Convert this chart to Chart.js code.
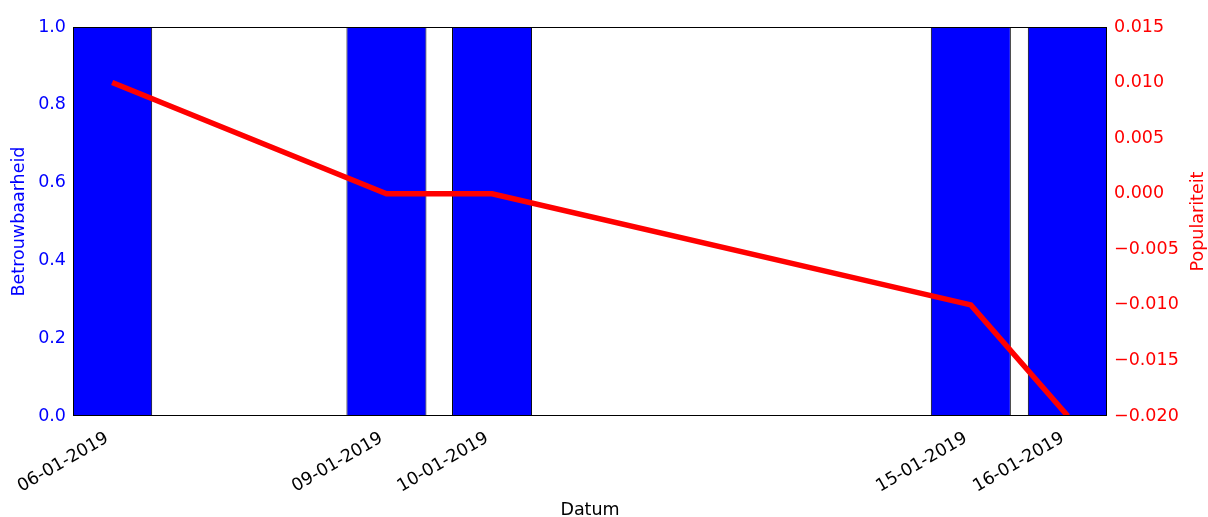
<!DOCTYPE html>
<html>
<head>
<meta charset="utf-8">
<script src="https://cdn.jsdelivr.net/npm/chart.js@4.4.0/dist/chart.umd.min.js"></script>
<style>
html, body { margin: 0; padding: 0; background: #fff; }
#wrap { width: 1208px; height: 517px; }
</style>
</head>
<body>
<div id="wrap"><canvas id="myChart" width="1208" height="517"></canvas></div>
<script>
var datums = ['06-01-2019', '09-01-2019', '10-01-2019', '15-01-2019', '16-01-2019'];
var dagen = [0, 2.87, 3.975, 8.985, 10];
// betrouwbaarheid -> balken, linker as
var betrouwbaarheid = [1.0, 1.0, 1.0, 1.0, 1.0];
// populariteit -> lijn, rechter as
var populariteit = [0.010, 0.000, 0.000, -0.010, -0.020];
var linksTicks = [0.0, 0.2, 0.4, 0.6, 0.8, 1.0];
var rechtsTicks = [-0.020, -0.015, -0.010, -0.005, 0.000, 0.005, 0.010, 0.015];

Chart.defaults.font.family = 'DejaVu Sans';
Chart.defaults.font.size = 17.5;

// zwart kader rond het plotgebied + titel rechter as (van onder naar boven, zoals links)
var kader = {
    id: 'kader',
    afterDatasetsDraw: function (chart) {
        var a = chart.chartArea;
        var ctx = chart.ctx;
        ctx.save();
        ctx.strokeStyle = '#000';
        ctx.lineWidth = 1;
        ctx.strokeRect(a.left + 0.5, a.top + 0.5, a.right - a.left - 1, a.bottom - a.top - 1);
        ctx.restore();
    },
    afterDraw: function (chart) {
        var a = chart.chartArea;
        var s = chart.scales.y2;
        var ctx = chart.ctx;
        ctx.save();
        ctx.translate(s.right - 10, (a.top + a.bottom) / 2);
        ctx.rotate(-Math.PI / 2);
        ctx.font = '17.5px "DejaVu Sans"';
        ctx.fillStyle = '#ff0000';
        ctx.textAlign = 'center';
        ctx.textBaseline = 'middle';
        ctx.fillText('Populariteit', 0, 0);
        ctx.restore();
    }
};

function punten(ys) {
    return dagen.map(function (d, i) { return { x: d, y: ys[i] }; });
}

var configChart = {
    data: {
        datasets: [{
            type: 'line',
            label: 'Populariteit',
            data: punten(populariteit),
            yAxisID: 'y2',
            borderColor: '#ff0000',
            borderWidth: 5.5,
            pointRadius: 0,
            tension: 0,
            clip: 0,
            order: 0
        }, {
            type: 'bar',
            label: 'Betrouwbaarheid',
            data: punten(betrouwbaarheid),
            yAxisID: 'y',
            backgroundColor: '#0000ff',
            borderColor: '#000000',
            borderWidth: 1,
            borderSkipped: false,
            categoryPercentage: 1,
            barPercentage: 0.825,
            order: 1
        }]
    },
    options: {
        responsive: false,
        animation: false,
        devicePixelRatio: 1,
        layout: { padding: { top: 27, left: 0, right: 0, bottom: 0 } },
        plugins: {
            legend: { display: false },
            tooltip: { enabled: false }
        },
        scales: {
            x: {
                type: 'linear',
                offset: false,
                min: -0.41,
                max: 10.41,
                grid: { display: false, drawTicks: false },
                border: { display: false },
                afterBuildTicks: function (s) {
                    s.ticks = dagen.map(function (d) { return { value: d }; });
                },
                afterFit: function (s) {
                    s.height = 101;
                    s.paddingLeft = 0;
                    s.paddingRight = 0;
                },
                ticks: {
                    autoSkip: false,
                    minRotation: 30,
                    maxRotation: 30,
                    color: '#000',
                    padding: 12,
                    labelOffset: -5,
                    callback: function (v, i) { return datums[i]; }
                },
                title: { display: true, text: 'Datum', color: '#000', padding: { top: 0, bottom: -4 } }
            },
            y: {
                position: 'left',
                min: 0,
                max: 1,
                grid: { display: false, drawTicks: false },
                border: { display: false },
                afterBuildTicks: function (s) {
                    s.ticks = linksTicks.map(function (v) { return { value: v }; });
                },
                afterFit: function (s) { s.width = 73; },
                ticks: {
                    color: '#0000ff',
                    padding: 7,
                    callback: function (v) { return v.toFixed(1); }
                },
                title: { display: true, text: 'Betrouwbaarheid', color: '#0000ff', padding: { top: 9, bottom: 0 } }
            },
            y2: {
                position: 'right',
                min: -0.02,
                max: 0.015,
                grid: { display: false, drawTicks: false },
                border: { display: false },
                afterBuildTicks: function (s) {
                    s.ticks = rechtsTicks.map(function (v) { return { value: v }; });
                },
                afterFit: function (s) { s.width = 101; },
                ticks: {
                    color: '#ff0000',
                    padding: 7,
                    callback: function (v) {
                        var t = Math.abs(v).toFixed(3);
                        return (v < -1e-9 ? '\u2212' : '') + t;
                    }
                },
                title: { display: false }
            }
        }
    },
    plugins: [kader]
};

window.onload = () => {
    const myChart = document.querySelector('#myChart').getContext('2d');
    var graphicsChart = new Chart(myChart, configChart);
};
</script>
</body>
</html>
